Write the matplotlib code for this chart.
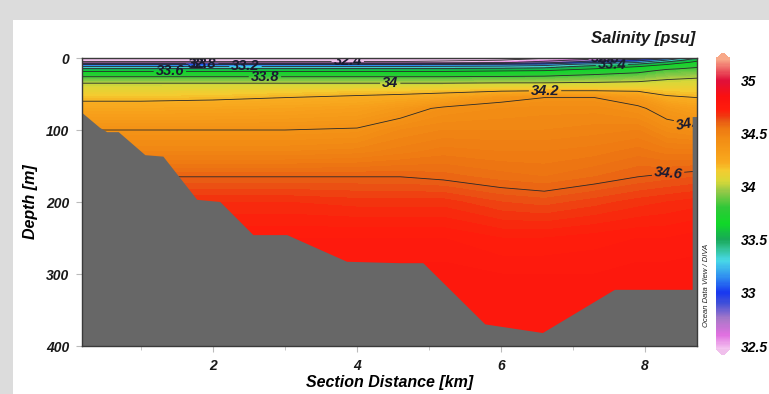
import numpy as np
import matplotlib
matplotlib.use("Agg")
import matplotlib.pyplot as plt
from matplotlib.colors import LinearSegmentedColormap, Normalize
from matplotlib.patches import Rectangle
import matplotlib.cm as cm

plt.rcParams['font.family'] = ['Liberation Sans', 'DejaVu Sans']

# station positions (km) and sample depths (m)
stations_km = [0.18, 1.0, 2.0, 3.0, 4.0, 4.6, 5.2, 6.0, 6.6, 7.3, 7.9, 8.3, 8.72]
depths_m = [0, 3, 6, 9, 12, 15, 18, 22, 28, 35, 45, 55, 70, 100, 130, 165, 200, 250, 300, 400]

# salinity [psu], one row per depth, one column per station
salinity = [
    # 0.18   1.0    2.0    3.0    4.0    4.6    5.2    6.0    6.6    7.3    7.9    8.3    8.72
    [32.30, 32.30, 32.30, 32.30, 32.30, 32.30, 32.31, 32.33, 32.38, 32.48, 32.62, 32.90, 33.40],
    [32.32, 32.32, 32.32, 32.32, 32.32, 32.32, 32.35, 32.40, 32.50, 32.70, 32.92, 33.20, 33.55],
    [32.45, 32.45, 32.45, 32.45, 32.45, 32.45, 32.48, 32.55, 32.70, 32.98, 33.18, 33.45, 33.65],
    [33.00, 33.00, 33.00, 33.00, 33.00, 33.00, 33.01, 33.04, 33.10, 33.30, 33.45, 33.60, 33.72],
    [33.22, 33.22, 33.22, 33.22, 33.22, 33.22, 33.23, 33.25, 33.30, 33.50, 33.60, 33.70, 33.78],
    [33.42, 33.42, 33.42, 33.42, 33.42, 33.42, 33.43, 33.45, 33.48, 33.60, 33.68, 33.78, 33.83],
    [33.58, 33.58, 33.58, 33.58, 33.58, 33.58, 33.58, 33.60, 33.62, 33.68, 33.75, 33.85, 33.88],
    [33.70, 33.70, 33.70, 33.70, 33.70, 33.70, 33.70, 33.71, 33.72, 33.78, 33.83, 33.90, 33.93],
    [33.85, 33.85, 33.85, 33.85, 33.85, 33.85, 33.85, 33.86, 33.87, 33.90, 33.93, 33.98, 34.00],
    [34.00, 34.00, 34.00, 34.00, 34.00, 34.00, 34.00, 34.01, 34.01, 34.02, 34.03, 34.05, 34.06],
    [34.10, 34.10, 34.11, 34.13, 34.15, 34.15, 34.16, 34.18, 34.19, 34.19, 34.18, 34.15, 34.14],
    [34.17, 34.17, 34.18, 34.20, 34.22, 34.24, 34.27, 34.37, 34.40, 34.40, 34.34, 34.22, 34.20],
    [34.26, 34.26, 34.27, 34.28, 34.30, 34.35, 34.42, 34.44, 34.45, 34.45, 34.42, 34.35, 34.30],
    [34.40, 34.40, 34.40, 34.40, 34.41, 34.46, 34.48, 34.48, 34.48, 34.49, 34.50, 34.45, 34.43],
    [34.48, 34.48, 34.48, 34.48, 34.49, 34.51, 34.53, 34.52, 34.52, 34.53, 34.55, 34.53, 34.53],
    [34.60, 34.60, 34.60, 34.60, 34.60, 34.60, 34.59, 34.57, 34.56, 34.58, 34.60, 34.61, 34.62],
    [34.68, 34.68, 34.68, 34.68, 34.67, 34.67, 34.67, 34.64, 34.63, 34.65, 34.67, 34.68, 34.69],
    [34.74, 34.74, 34.74, 34.74, 34.74, 34.74, 34.74, 34.72, 34.72, 34.73, 34.74, 34.74, 34.75],
    [34.77, 34.77, 34.77, 34.77, 34.77, 34.77, 34.77, 34.76, 34.76, 34.76, 34.77, 34.77, 34.77],
    [34.78, 34.78, 34.78, 34.78, 34.78, 34.78, 34.78, 34.78, 34.78, 34.78, 34.78, 34.78, 34.78],
]

# bottom topography along the section
bottom_km = [0.18, 0.43, 0.53, 0.69, 1.06, 1.31, 1.78, 2.1, 2.56, 3.03, 3.86, 4.6, 4.92,
             5.78, 6.58, 7.58, 8.66, 8.66, 8.72]
bottom_m = [76, 97, 103, 103, 135, 137, 197, 200, 246, 246, 283, 285, 285,
            370, 382, 322, 322, 82, 82]

contour_levels = [32.4, 32.6, 32.8, 33.0, 33.2, 33.4, 33.6, 33.8, 34.0, 34.2, 34.4, 34.6]
cbar_ticks = [32.5, 33, 33.5, 34, 34.5, 35]

# ODV-like palette
vmin, vmax = 32.47, 35.2
anchors = [
    (32.47, '#f4c4f0'), (32.6, '#e070e0'), (32.75, '#a878c8'), (32.9, '#4050d8'),
    (33.0, '#1838f0'), (33.15, '#3090f0'), (33.3, '#48d8e8'), (33.42, '#30c090'),
    (33.5, '#18a858'), (33.65, '#10d828'), (33.8, '#30c838'), (33.95, '#90c848'),
    (34.05, '#d8d838'), (34.15, '#f4cc30'), (34.22, '#f8ac20'), (34.3, '#f7a01a'),
    (34.45, '#f28c14'), (34.55, '#ee7812'), (34.62, '#e85814'), (34.68, '#f4300e'),
    (34.73, '#ff1c0c'), (34.85, '#fa1010'), (35.0, '#e0103a'), (35.2, '#f8a888'),
]
cmap = LinearSegmentedColormap.from_list(
    'odv', [((v - vmin) / (vmax - vmin), c) for v, c in anchors])
cmap.set_under('#f0c0ec')
cmap.set_over('#f8a888')
norm = Normalize(vmin=vmin, vmax=vmax)

fig = plt.figure(figsize=(7.69, 3.94), dpi=100, facecolor='#dcdcdc')
fig.patches.append(Rectangle((13 / 769, 0), 1, (394 - 20) / 394, transform=fig.transFigure,
                             facecolor='white', edgecolor='none', zorder=-10))

ax = fig.add_axes([82 / 769, 1 - 346 / 394, (697 - 82) / 769, (346 - 58) / 394])
X, D = np.meshgrid(stations_km, depths_m)
S = np.array(salinity)

fill_levels = np.arange(32.46, 35.21, 0.02)
ax.contourf(X, D, S, levels=fill_levels, cmap=cmap, norm=norm, extend='both')
cs = ax.contour(X, D, S, levels=contour_levels, colors='#2a2a2a', linewidths=0.6)

# seafloor drawn over the labels, like ODV does
ax.fill(list(bottom_km) + [8.72, 0.18], list(bottom_m) + [400, 400],
        color='#676767', zorder=3, lw=0)

label_pos = [(1.40, 20), (1.85, 8), (1.80, 10), (2.45, 11.5), (2.72, 26), (3.87, 5),
             (4.46, 35), (6.61, 47), (7.44, 1.5), (7.54, 11), (8.62, 91), (8.32, 162)]
texts = ax.clabel(cs, fmt='%g', fontsize=10.5, inline=True, inline_spacing=2,
                  manual=label_pos)
for t in texts:
    t.set_fontstyle('italic')
    t.set_fontweight('bold')
    t.set_color('#1a1a30')
    t.set_zorder(2.5)
    t.set_clip_on(True)

ax.set_xlim(0.18, 8.72)
ax.set_ylim(400, 0)
ax.set_xticks([2, 4, 6, 8])
ax.set_xticks([1, 3, 5, 7], minor=True)
ax.set_yticks([0, 100, 200, 300, 400])
tick_font = dict(fontsize=10, fontweight='bold', fontstyle='italic')
ax.set_xticklabels(['2', '4', '6', '8'], **tick_font)
ax.set_yticklabels(['0', '100', '200', '300', '400'], **tick_font)
ax.tick_params(axis='both', which='both', color='#bbbbbb', direction='out', length=4,
               pad=5, labelcolor='#1a1a1a')
ax.tick_params(axis='x', which='minor', length=3)
for sp in ax.spines.values():
    sp.set_color('#3a3a3a')
    sp.set_linewidth(1.0)
    sp.set_zorder(5)

ax.set_xlabel('Section Distance [km]', fontsize=11.5, fontweight='bold',
              fontstyle='italic', labelpad=2)
ax.set_ylabel('Depth [m]', fontsize=11.5, fontweight='bold', fontstyle='italic',
              labelpad=6)

fig.text(695 / 769, 1 - 38 / 394, 'Salinity [psu]', ha='right', va='center',
         fontsize=12, fontweight='bold', fontstyle='italic', color='#1a1a1a')
fig.text(706 / 769, 1 - 285 / 394, 'Ocean Data View / DIVA', rotation=90,
         ha='center', va='center', fontsize=5.5, fontstyle='italic', color='#222222')

cax = fig.add_axes([716 / 769, 1 - 355 / 394, 14 / 769, (355 - 53) / 394])
sm = cm.ScalarMappable(norm=norm, cmap=cmap)
cb = fig.colorbar(sm, cax=cax, extend='both', extendfrac=0.02, ticks=cbar_ticks)
cb.outline.set_visible(False)
cb.ax.tick_params(length=0, pad=8)
cb.ax.set_yticklabels(['32.5', '33', '33.5', '34', '34.5', '35'], **tick_font)

fig.savefig('out.png', dpi=100, facecolor=fig.get_facecolor())
